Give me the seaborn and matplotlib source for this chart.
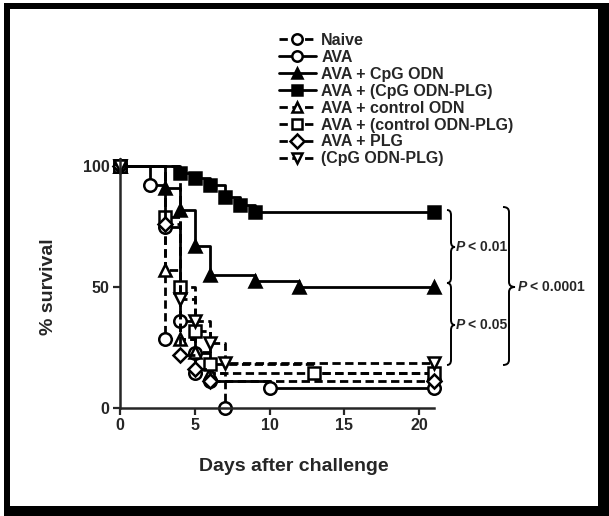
import numpy as np
import pandas as pd
import matplotlib
matplotlib.use("Agg")
import matplotlib.pyplot as plt
from matplotlib.path import Path
from matplotlib.patches import PathPatch, Rectangle
import seaborn as sns

# survival curves (days after challenge, % survival)
naive_days = [0, 3, 5, 7]
naive_surv = [100, 28.6, 14.3, 0]

ava_days = [0, 2, 3, 4, 5, 6, 10, 21]
ava_surv = [100, 92, 75, 36, 22.7, 11, 8.3, 8.3]

cpg_days = [0, 3, 4, 5, 6, 9, 12, 21]
cpg_surv = [100, 91, 82, 67, 55, 52.5, 50, 50]

cpgplg_days = [0, 4, 5, 6, 7, 8, 9, 21]
cpgplg_surv = [100, 97, 95, 92, 87, 84, 81, 81]

ctrl_days = [0, 3, 4, 5, 6, 21]
ctrl_surv = [100, 57, 28.6, 23, 14.3, 14.3]

ctrlplg_days = [0, 3, 4, 5, 6, 13, 21]
ctrlplg_surv = [100, 79, 50, 32, 18, 14.5, 14.5]

plg_days = [0, 3, 4, 5, 6, 21]
plg_surv = [100, 76, 22, 16, 11, 11]

cpgonly_days = [0, 4, 5, 6, 7, 21]
cpgonly_surv = [100, 45, 36, 27, 18.6, 18.6]

labels = ["Naive", "AVA", "AVA + CpG ODN", "AVA + (CpG ODN-PLG)",
          "AVA + control ODN", "AVA + (control ODN-PLG)", "AVA + PLG",
          "(CpG ODN-PLG)"]

sns.set_style("ticks")
plt.rcParams['font.family'] = ['Liberation Sans', 'DejaVu Sans']
plt.rcParams['font.weight'] = 'bold'

fig = plt.figure(figsize=(6.09, 5.16), dpi=100)
W, H = 609, 516

def fx(x):
    return x / W

def fy(y):
    return 1 - y / H

# axes: day 0 at x=120, day 21 at x=434; 0% at y=408
ytop = 103
ax = fig.add_axes([fx(120), fy(408), 314 / W, ytop * 2.42 / H])

dash = (0, (3, 1.6))
series = [
    (naive_days, naive_surv, dash, 'o', 'white'),
    (ava_days, ava_surv, '-', 'o', 'white'),
    (cpg_days, cpg_surv, '-', '^', 'black'),
    (cpgplg_days, cpgplg_surv, '-', 's', 'black'),
    (ctrl_days, ctrl_surv, dash, '^', 'white'),
    (ctrlplg_days, ctrlplg_surv, dash, 's', 'white'),
    (plg_days, plg_surv, dash, 'D', 'white'),
    (cpgonly_days, cpgonly_surv, dash, 'v', 'white'),
]
msizes = {'o': 9, '^': 9, 's': 8.5, 'D': 7, 'v': 9}

for (d, s, ls, mk, fc), lab in zip(series, labels):
    df = pd.DataFrame({'day': d, 'surv': s})
    sns.lineplot(data=df, x='day', y='surv', ax=ax, color='black',
                 linestyle=ls, linewidth=2.0, marker=mk, markersize=msizes[mk],
                 markerfacecolor=fc, markeredgecolor='black', markeredgewidth=1.8,
                 drawstyle='steps-post', estimator=None, sort=False,
                 clip_on=False, label=lab)

ax.set_xlim(0, 21)
ax.set_ylim(0, ytop)
ax.set_xticks([0, 5, 10, 15, 20])
ax.set_yticks([0, 50, 100])
sns.despine(ax=ax)
for sp in ['left', 'bottom']:
    ax.spines[sp].set_linewidth(1.8)
ax.tick_params(width=1.6, length=5, labelsize=11.5, direction='out', pad=2.5)
for t in ax.get_xticklabels() + ax.get_yticklabels():
    t.set_fontweight('bold')

ax.set_xlabel("Days after challenge", fontsize=14, fontweight='bold')
ax.set_ylabel("% survival", fontsize=14, fontweight='bold')
ax.xaxis.set_label_coords(0.554, -0.2)
ax.yaxis.set_label_coords(-0.2, 0.485)

leg = ax.legend(loc='upper left', bbox_to_anchor=(fx(279), fy(33)),
                bbox_transform=fig.transFigure, frameon=False,
                prop={'weight': 'bold', 'size': 11.5}, handlelength=2.3,
                handletextpad=0.35, labelspacing=0.12, borderpad=0,
                borderaxespad=0)
for lh in leg.get_lines():
    lh.set_markersize(7.5)
    lh.set_linewidth(2.0)


def brace(xl, yt, yb, w, ymid=None):
    # right-pointing curly brace in pixel coords (origin top-left)
    if ymid is None:
        ymid = (yt + yb) / 2
    xm = xl + w / 2
    r = 5
    pts = [(xl, yt), (xm, yt), (xm, yt + r),
           (xm, ymid - r), (xm, ymid), (xl + w, ymid),
           (xm, ymid), (xm, ymid + r),
           (xm, yb - r), (xm, yb), (xl, yb)]
    codes = [Path.MOVETO, Path.CURVE3, Path.CURVE3,
             Path.LINETO, Path.CURVE3, Path.CURVE3,
             Path.CURVE3, Path.CURVE3,
             Path.LINETO, Path.CURVE3, Path.CURVE3]
    verts = [(fx(x), fy(y)) for x, y in pts]
    fig.add_artist(PathPatch(Path(verts, codes), fill=False, lw=1.4,
                             edgecolor='black', transform=fig.transFigure))


def pval(x, y, txt):
    fig.text(fx(x), fy(y), "P", fontsize=10, fontweight='bold',
             fontstyle='italic', va='center', ha='left')
    fig.text(fx(x + 12), fy(y), "< " + txt, fontsize=10, fontweight='bold',
             va='center', ha='left')


brace(447, 210, 283, 8, 247)
brace(447, 283, 365, 8, 325)
brace(503, 207, 365, 12, 287)
pval(456, 247, "0.01")
pval(456, 325, "0.05")
pval(518, 287, "0.0001")

# thick black frame around the figure
for x0, y0, w, h in [(4, 3, 6, 513), (4, 3, 605, 6), (598, 3, 11, 513), (4, 506, 605, 10)]:
    fig.add_artist(Rectangle((fx(x0), fy(y0 + h)), w / W, h / H,
                             transform=fig.transFigure, color='black', lw=0))

fig.savefig("out.png", dpi=100)
